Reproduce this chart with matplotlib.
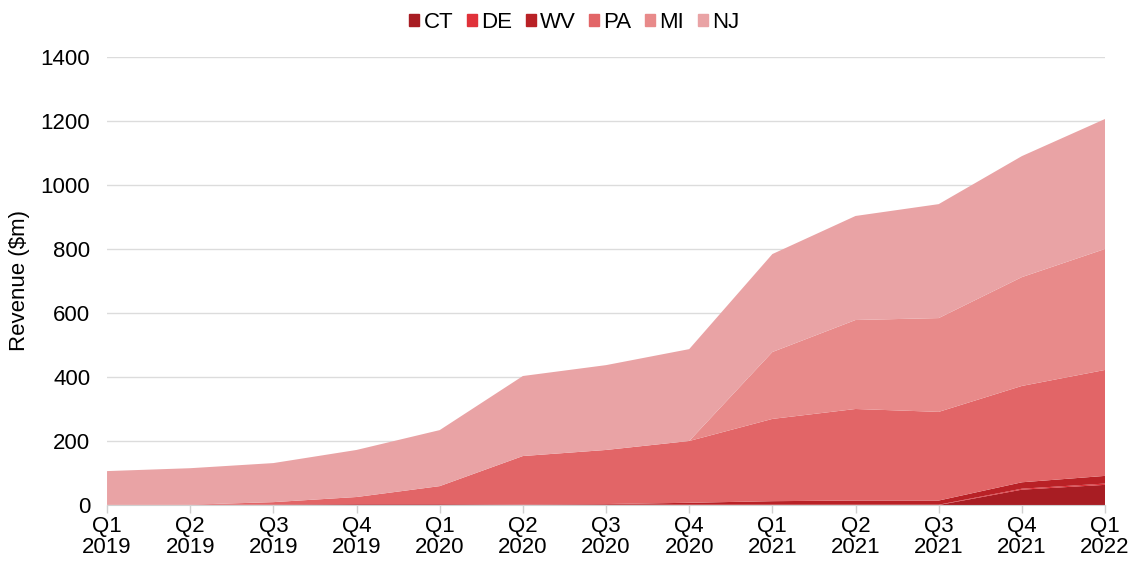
import numpy as np
import matplotlib
matplotlib.use("Agg")
import matplotlib.pyplot as plt

plt.rcParams['font.family'] = ['Liberation Sans', 'DejaVu Sans']

quarters = ["Q1\n2019", "Q2\n2019", "Q3\n2019", "Q4\n2019",
            "Q1\n2020", "Q2\n2020", "Q3\n2020", "Q4\n2020",
            "Q1\n2021", "Q2\n2021", "Q3\n2021", "Q4\n2021", "Q1\n2022"]

ct = [0, 0, 0, 0, 0, 0, 0, 0, 0, 0, 0, 48, 63]
de = [1, 1, 1, 1, 1, 1, 1, 1, 1, 1, 1, 3, 4]
wv = [0, 0, 1, 2, 2, 1, 2, 6, 11, 13, 13, 20, 24]
pa = [0, 0, 7, 22, 56, 151, 169, 193, 257, 286, 277, 301, 331]
mi = [0, 0, 0, 0, 0, 0, 0, 0, 209, 278, 293, 340, 378]
nj = [105, 114, 122, 147, 175, 250, 265, 287, 306, 325, 356, 378, 406]

states = ["CT", "DE", "WV", "PA", "MI", "NJ"]
colors = ["#a81d23", "#e0323a", "#b92126", "#e26567", "#e88a8a", "#e9a3a5"]

fig = plt.figure(figsize=(11.35, 5.61), dpi=100)
ax = fig.add_axes([0.0943, 0.0998, 0.8793, 0.7988])

x = np.arange(len(quarters))
polys = ax.stackplot(x, ct, de, wv, pa, mi, nj, colors=colors, labels=states,
                     linewidth=0, zorder=2)

ax.set_xlim(0, len(quarters) - 1)
ax.set_ylim(0, 1400)
ax.set_yticks(np.arange(0, 1401, 200))
ax.set_xticks(x)
ax.set_xticklabels(quarters, fontsize=16, linespacing=1.0)
ax.tick_params(axis='y', labelsize=16, length=0, pad=12)
ax.tick_params(axis='x', length=6, color='#d0d0d0', width=1, pad=2)
ax.grid(axis='y', color='#dcdcdc', linewidth=1, zorder=0)
for s in ['top', 'right', 'left']:
    ax.spines[s].set_visible(False)
ax.spines['bottom'].set_color('#d0d0d0')
ax.set_ylabel("Revenue ($m)", fontsize=16, labelpad=8)

handles = [plt.Rectangle((0, 0), 1, 1, color=c) for c in colors]
fig.legend(handles, states, loc='upper center', ncol=6, frameon=False,
           fontsize=16, bbox_to_anchor=(0.506, 1.015), handlelength=0.45,
           handleheight=0.45, handletextpad=0.2, columnspacing=0.6)

fig.savefig("out.png", dpi=100)
